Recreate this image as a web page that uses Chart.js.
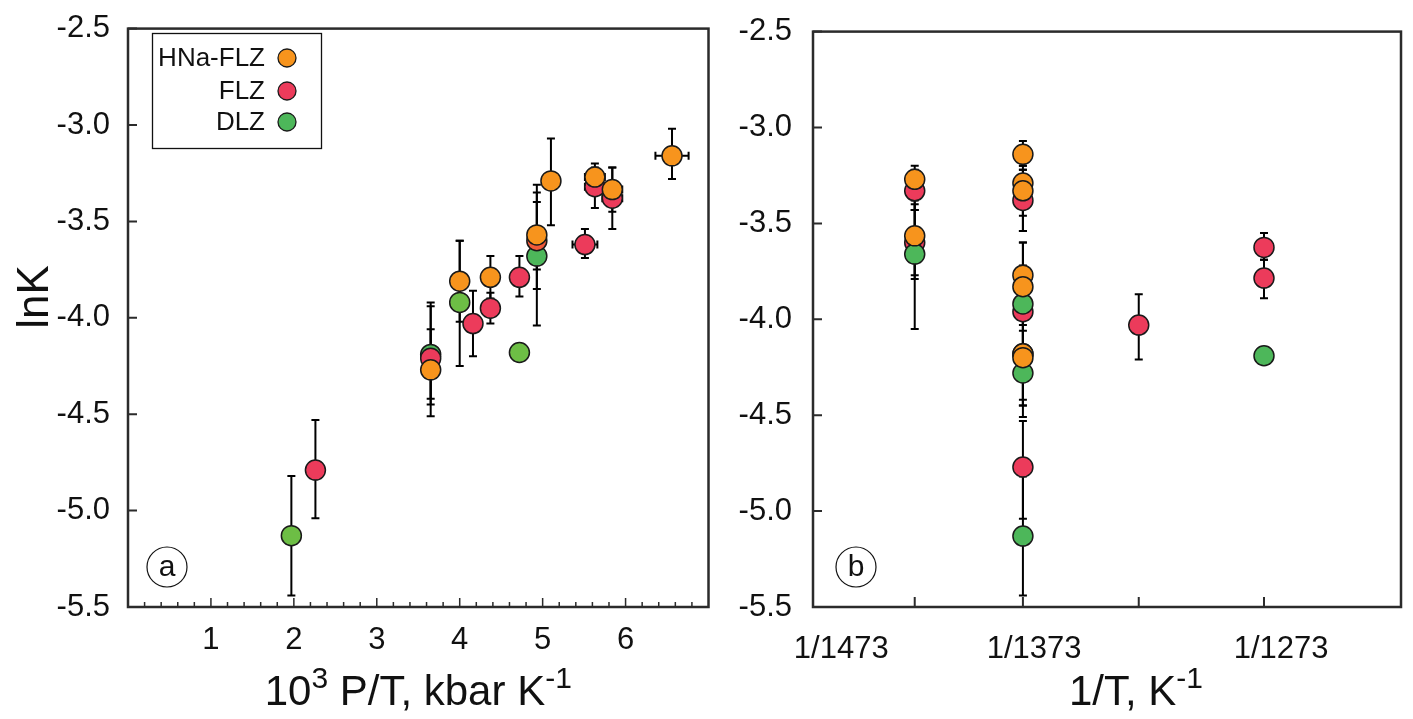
<!DOCTYPE html>
<html><head><meta charset="utf-8">
<script src="https://cdn.jsdelivr.net/npm/chart.js@4.4.0/dist/chart.umd.min.js"></script>
<style>
html,body{margin:0;padding:0;background:#fff;width:1413px;height:719px;overflow:hidden}
#ca{position:absolute;left:0;top:0}
#cb{position:absolute;left:720px;top:0}
</style></head><body>
<canvas id="ca" width="720" height="719"></canvas>
<canvas id="cb" width="693" height="719"></canvas>
<script>
const seriesNames = ['HNa-FLZ', 'FLZ', 'DLZ'];
const seriesColors = ['#F7941D', '#EC3B5B', '#4DB75A'];
const yTickValues = [-5.5, -5.0, -4.5, -4.0, -3.5, -3.0, -2.5];

// ---- panel a : 10^3 P/T ----
const aXTickValues = [1, 2, 3, 4, 5, 6];
const aHNaX    = [6.56, 5.63, 5.84, 5.10, 4.93, 4.00, 4.37, 3.65];
const aHNaY    = [-3.16, -3.27, -3.335, -3.29, -3.57, -3.81, -3.79, -4.27];
const aHNaYHi  = [-3.02, -3.20, -3.22, -3.07, -3.31, -3.60, -3.68, -4.06];
const aHNaYLo  = [-3.28, -3.34, -3.45, -3.52, -3.75, -4.02, -3.90, -4.51];
const aHNaXErr = [0.20, 0.12, 0.12, 0.10, 0.10, 0.07, 0.08, 0.05];

const aFLZX    = [5.63, 5.84, 5.51, 4.93, 4.72, 4.16, 4.37, 3.65, 2.26];
const aFLZY    = [-3.32, -3.38, -3.62, -3.60, -3.79, -4.03, -3.95, -4.21, -4.79];
const aFLZYHi  = [-3.22, -3.22, -3.54, -3.35, -3.68, -3.86, -3.87, -3.94, -4.53];
const aFLZYLo  = [-3.43, -3.54, -3.69, -3.85, -3.89, -4.20, -4.03, -4.42, -5.04];
const aFLZXErr = [0.12, 0.12, 0.15, 0.10, 0.10, 0.08, 0.08, 0.05, 0];
const aFLZColors = ['#EC3B5B', '#EC3B5B', '#EC3B5B', '#F15A3A', '#EC3B5B', '#EC3B5B', '#EC3B5B', '#EC3B5B', '#EC3B5B'];

const aDLZX    = [4.93, 4.00, 4.72, 3.65, 1.97];
const aDLZY    = [-3.68, -3.92, -4.18, -4.19, -5.13];
const aDLZYHi  = [-3.40, -3.60, -4.18, -3.92, -4.82];
const aDLZYLo  = [-4.04, -4.25, -4.18, -4.45, -5.44];
const aDLZXErr = [0.10, 0.07, 0.10, 0.05, 0];
const aDLZColors = ['#4DB75A', '#6DBE45', '#6DBE45', '#4DB75A', '#6DBE45'];

// ---- panel b : 1/T ----
const bColumnPos = [17.3, 35.7, 55.4, 76.7];
const bLabelPos = [4.8, 37.6, 79.6];
const bLabels = ['1/1473', '1/1373', '1/1273'];

const bHNaCol  = [0, 0, 1, 1, 1, 1, 1, 1, 1];
const bHNaY    = [-3.27, -3.565, -3.14, -3.29, -3.33, -3.77, -3.83, -4.18, -4.20];
const bHNaYHi  = [-3.20, -3.43, -3.07, -3.20, -3.22, -3.60, -3.72, -3.98, -4.06];
const bHNaYLo  = [-3.38, -3.77, -3.20, -3.46, -3.54, -3.92, -3.96, -4.45, -4.51];

const bFLZCol  = [0, 0, 1, 1, 1, 1, 2, 3, 3];
const bFLZY    = [-3.33, -3.60, -3.38, -3.96, -4.18, -4.77, -4.03, -3.625, -3.785];
const bFLZYHi  = [-3.22, -3.35, -3.22, -3.87, -3.94, -4.53, -3.87, -3.55, -3.69];
const bFLZYLo  = [-3.43, -3.79, -3.54, -4.03, -4.42, -5.04, -4.21, -3.69, -3.89];

const bDLZCol  = [0, 1, 1, 1, 3];
const bDLZY    = [-3.66, -3.92, -4.28, -5.13, -4.19];
const bDLZYHi  = [-3.40, -3.60, -3.92, -4.82, -4.16];
const bDLZYLo  = [-4.05, -4.25, -4.45, -5.44, -4.22];

const FONT = "'Liberation Sans', Arial, Helvetica, sans-serif";
const INK = '#111';
const FRAME = '#2b2b2b';

function pts(xs, ys) { return xs.map((x, i) => ({ x: x, y: ys[i] })); }

function mkSet(label, xs, ys, hi, lo, xe, color, order) {
  return {
    label: label, data: pts(xs, ys), errHi: hi, errLo: lo, errX: xe,
    backgroundColor: color, borderColor: '#1a1a1a', borderWidth: 1.5,
    pointRadius: 10, pointHoverRadius: 10, order: order
  };
}

const errorBars = {
  id: 'errorBars',
  beforeDatasetsDraw(chart) {
    const ctx = chart.ctx, xs = chart.scales.x, ys = chart.scales.y;
    ctx.save();
    ctx.strokeStyle = '#000';
    ctx.lineWidth = 2;
    chart.data.datasets.forEach((ds) => {
      ds.data.forEach((p, i) => {
        const px = xs.getPixelForValue(p.x);
        const py = ys.getPixelForValue(p.y);
        const yh = ys.getPixelForValue(ds.errHi[i]);
        const yl = ys.getPixelForValue(ds.errLo[i]);
        if (Math.abs(yl - yh) > 1) {
          ctx.beginPath();
          ctx.moveTo(px, yh); ctx.lineTo(px, yl);
          ctx.moveTo(px - 4, yh); ctx.lineTo(px + 4, yh);
          ctx.moveTo(px - 4, yl); ctx.lineTo(px + 4, yl);
          ctx.stroke();
        }
        const xe = ds.errX ? ds.errX[i] : 0;
        if (xe > 0) {
          const x1 = xs.getPixelForValue(p.x - xe), x2 = xs.getPixelForValue(p.x + xe);
          ctx.beginPath();
          ctx.moveTo(x1, py); ctx.lineTo(x2, py);
          ctx.moveTo(x1, py - 4); ctx.lineTo(x1, py + 4);
          ctx.moveTo(x2, py - 4); ctx.lineTo(x2, py + 4);
          ctx.stroke();
        }
      });
    });
    ctx.restore();
  }
};

function drawRich(ctx, parts, cx, base) {
  let w = 0;
  parts.forEach(p => { ctx.font = p.size + 'px ' + FONT; p.w = ctx.measureText(p.t).width; w += p.w; });
  let x = cx - w / 2;
  ctx.fillStyle = INK;
  ctx.textAlign = 'left';
  ctx.textBaseline = 'alphabetic';
  parts.forEach(p => { ctx.font = p.size + 'px ' + FONT; ctx.fillText(p.t, x, base - (p.rise || 0)); x += p.w; });
}

function circleLetter(ctx, cx, cy, letter) {
  ctx.save();
  ctx.beginPath();
  ctx.arc(cx, cy, 20, 0, Math.PI * 2);
  ctx.strokeStyle = '#111'; ctx.lineWidth = 1.2; ctx.stroke();
  ctx.fillStyle = INK; ctx.font = '30px ' + FONT;
  ctx.textAlign = 'center'; ctx.textBaseline = 'middle';
  ctx.fillText(letter, cx, cy + 1);
  ctx.restore();
}

function frameAndYTicks(chart) {
  const ctx = chart.ctx, a = chart.chartArea, ys = chart.scales.y;
  ctx.save();
  ctx.strokeStyle = FRAME; ctx.lineWidth = 2.5;
  ctx.strokeRect(a.left, a.top, a.right - a.left, a.bottom - a.top);
  ctx.lineWidth = 2;
  ctx.beginPath();
  yTickValues.forEach(v => {
    const y = ys.getPixelForValue(v);
    ctx.moveTo(a.left, y); ctx.lineTo(a.left + 9, y);
  });
  ctx.stroke();
  ctx.restore();
}

const decorA = {
  id: 'decorA',
  afterDraw(chart) {
    const ctx = chart.ctx, a = chart.chartArea, xs = chart.scales.x;
    frameAndYTicks(chart);
    ctx.save();
    ctx.strokeStyle = FRAME;
    ctx.lineWidth = 1.5;
    ctx.beginPath();
    for (let k = 1; k < 35; k++) {
      const v = k * 0.2;
      const x = xs.getPixelForValue(v);
      const major = k % 5 === 0;
      ctx.moveTo(x, a.bottom); ctx.lineTo(x, a.bottom - (major ? 9 : 5));
    }
    ctx.stroke();
    // legend
    ctx.lineWidth = 1.3; ctx.strokeStyle = '#111';
    ctx.strokeRect(152.5, 33.5, 169, 115);
    const rows = [58, 91, 122];
    ctx.font = '26px ' + FONT; ctx.textAlign = 'right'; ctx.textBaseline = 'middle'; ctx.fillStyle = INK;
    seriesNames.forEach((n, i) => {
      ctx.fillText(n, 265, rows[i] + 1);
      ctx.beginPath(); ctx.arc(287, rows[i], 9, 0, Math.PI * 2);
      ctx.fillStyle = seriesColors[i]; ctx.fill();
      ctx.lineWidth = 1.3; ctx.strokeStyle = '#1a1a1a'; ctx.stroke();
      ctx.fillStyle = INK;
    });
    ctx.restore();
    circleLetter(ctx, 167, 567, 'a');
    ctx.save();
    drawRich(ctx, [{ t: '10', size: 42 }, { t: '3', size: 30, rise: 17 }, { t: ' P/T, kbar K', size: 42 }, { t: '-1', size: 30, rise: 17 }], (a.left + a.right) / 2, 705);
    ctx.translate(36, 297);
    ctx.rotate(-Math.PI / 2);
    ctx.font = '44px ' + FONT; ctx.fillStyle = INK; ctx.textAlign = 'center'; ctx.textBaseline = 'middle';
    ctx.fillText('lnK', 0, 0);
    ctx.restore();
  }
};

const decorB = {
  id: 'decorB',
  afterDraw(chart) {
    const ctx = chart.ctx, a = chart.chartArea, xs = chart.scales.x;
    frameAndYTicks(chart);
    ctx.save();
    ctx.strokeStyle = FRAME; ctx.lineWidth = 2;
    ctx.beginPath();
    bColumnPos.forEach(v => {
      const x = xs.getPixelForValue(v);
      ctx.moveTo(x, a.bottom); ctx.lineTo(x, a.bottom - 10);
    });
    ctx.stroke();
    ctx.restore();
    circleLetter(ctx, 856 - 720, 567, 'b');
    ctx.save();
    drawRich(ctx, [{ t: '1/T, K', size: 42 }, { t: '-1', size: 30, rise: 17 }], 1136 - 720, 705);
    ctx.restore();
  }
};

function yAxis(width, pad) {
  return {
    type: 'linear', min: -5.5, max: -2.5,
    grid: { display: false }, border: { display: false },
    afterBuildTicks: s => { s.ticks = yTickValues.map(v => ({ value: v })); },
    ticks: { font: { family: FONT, size: 31 }, color: INK, padding: pad, callback: v => Number(v).toFixed(1) },
    afterFit: s => { s.width = width; }
  };
}

const common = {
  responsive: false, animation: false, devicePixelRatio: 1,
  plugins: { legend: { display: false }, tooltip: { enabled: false } },
  events: []
};

new Chart(document.getElementById('ca'), {
  type: 'scatter',
  data: {
    datasets: [
      mkSet('HNa-FLZ', aHNaX, aHNaY, aHNaYHi, aHNaYLo, aHNaXErr, seriesColors[0], 0),
      mkSet('FLZ', aFLZX, aFLZY, aFLZYHi, aFLZYLo, aFLZXErr, aFLZColors, 1),
      mkSet('DLZ', aDLZX, aDLZY, aDLZYHi, aDLZYLo, aDLZXErr, aDLZColors, 2)
    ]
  },
  options: Object.assign({}, common, {
    layout: { padding: { top: 21, right: 5, left: 0, bottom: 0 } },
    scales: {
      x: {
        type: 'linear', min: 0, max: 7,
        grid: { display: false }, border: { display: false },
        afterBuildTicks: s => { s.ticks = aXTickValues.map(v => ({ value: v })); },
        ticks: { font: { family: FONT, size: 31 }, color: INK, padding: 7, maxRotation: 0, autoSkip: false, callback: v => String(v) },
        afterFit: s => { s.height = 112; }
      },
      y: yAxis(128, 10)
    }
  }),
  plugins: [errorBars, decorA]
});

const bZeros = n => new Array(n).fill(0);
new Chart(document.getElementById('cb'), {
  type: 'scatter',
  data: {
    datasets: [
      mkSet('HNa-FLZ', bHNaCol.map(c => bColumnPos[c]), bHNaY, bHNaYHi, bHNaYLo, bZeros(bHNaY.length), seriesColors[0], 0),
      mkSet('DLZ', bDLZCol.map(c => bColumnPos[c]), bDLZY, bDLZYHi, bDLZYLo, bZeros(bDLZY.length), seriesColors[2], 1),
      mkSet('FLZ', bFLZCol.map(c => bColumnPos[c]), bFLZY, bFLZYHi, bFLZYLo, bZeros(bFLZY.length), seriesColors[1], 2)
    ]
  },
  options: Object.assign({}, common, {
    layout: { padding: { top: 21, right: 12, left: 0, bottom: 0 } },
    scales: {
      x: {
        type: 'linear', min: 0, max: 100,
        grid: { display: false }, border: { display: false },
        afterBuildTicks: s => { s.ticks = bLabelPos.map(v => ({ value: v })); },
        ticks: { font: { family: FONT, size: 31 }, color: INK, padding: 16, maxRotation: 0, autoSkip: false,
          callback: (v, i) => bLabels[i] },
        afterFit: s => { s.height = 112; }
      },
      y: yAxis(93, 13)
    }
  }),
  plugins: [errorBars, decorB]
});
</script>
</body></html>
